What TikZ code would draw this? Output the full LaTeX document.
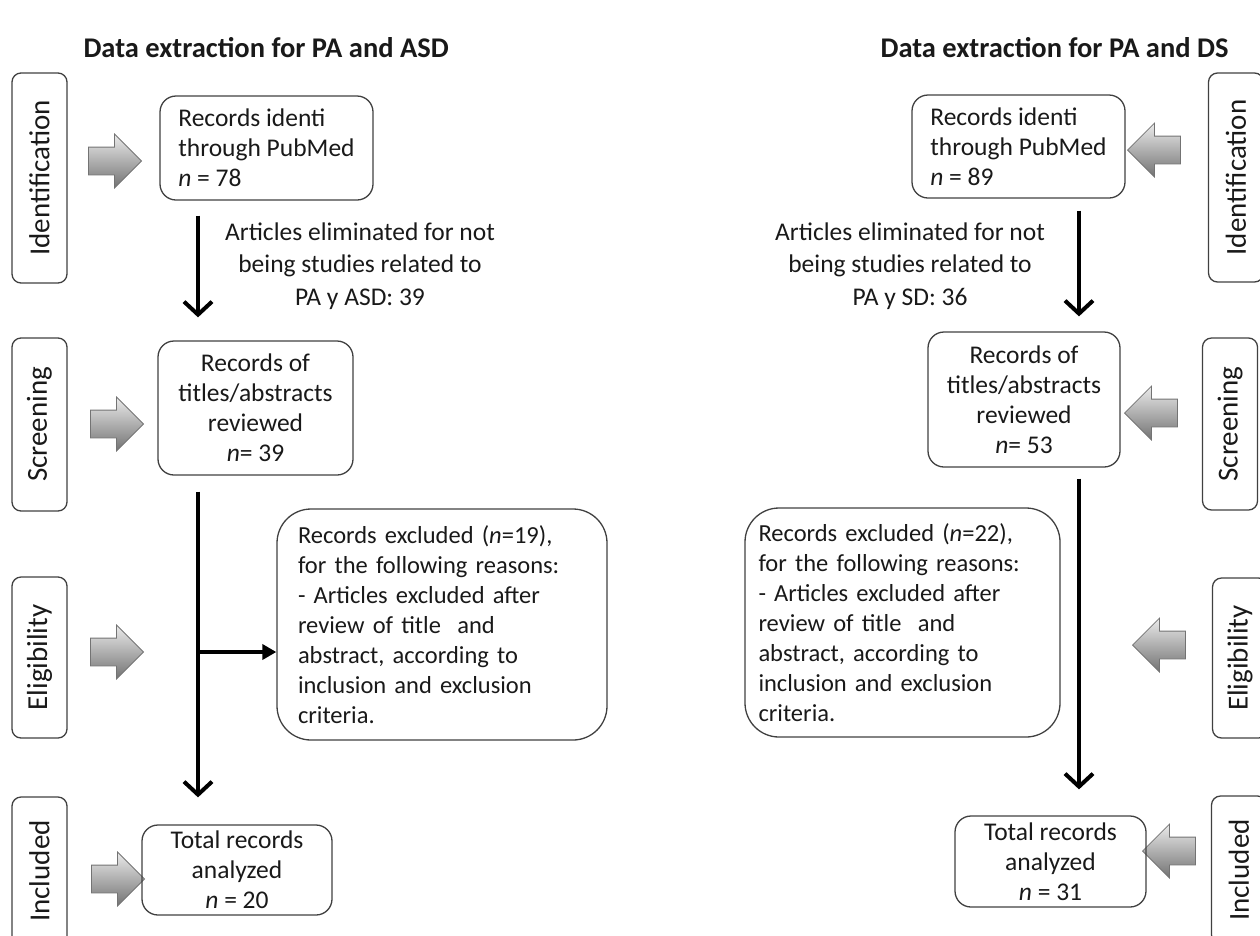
\documentclass[tikz,border=0pt]{standalone}
\usepackage{fontspec}
\setmainfont{Carlito}
\usetikzlibrary{arrows.meta}
\usetikzlibrary{shapes.arrows}
\def\ReviewedRecords{Records of\\titles/abstracts\\reviewed}
\def\TotalRecords{Total records\\analyzed}
\def\ExclusionReasons{for the following reasons:\\- Articles excluded after\\review of title~ and\\abstract, according to\\inclusion and exclusion\\criteria.}

\begin{document}
\begin{tikzpicture}
[x=1pt,y=-1pt,
font=\fontsize{25.5}{30}\selectfont,
recordnode/.style={draw=black!75,line width=1.3pt,rounded corners=16pt,
inner sep=0pt,text=black!90},
excludednode/.style={recordnode,rounded corners=34pt,text width=288pt,
align=left,font=\fontsize{24.5}{30}\selectfont},
phasenode/.style={draw=black!75,line width=1.3pt,rounded corners=9pt,
rotate=90,minimum height=55pt,inner sep=0pt,text=black!90,
font=\fontsize{29}{30}\selectfont},
notenode/.style={align=center,text=black!90,font=\fontsize{25.5}{32.5}\selectfont},
titlenode/.style={anchor=west,font=\fontsize{28.5}{30}\selectfont\bfseries,
text=black!90},
blockarrow/.style={single arrow,draw=black!55,line width=0.8pt,
top color=black!8,bottom color=black!55,minimum height=53pt,
minimum width=52pt,single arrow head extend=13pt,inner xsep=0pt,
inner ysep=13.5pt},
flowarrow/.style={line width=4pt,-{Straight Barb[length=13pt,width=28pt]}},
branch/.style={line width=4pt,-{Triangle[length=14pt,width=15pt]}}
]
\clip (0,0) rectangle (1260,935);
% left: PA and ASD
\begin{scope}
\node [titlenode] (titleA) at (80,48) {Data extraction for PA and ASD};
\node [phasenode,minimum width=210pt] (phIA) at (39.5,178) {Identification};
\node [phasenode,minimum width=173pt] (phSA) at (39.5,424.5) {Screening};
\node [phasenode,minimum width=161pt] (phEA) at (39.5,657.5) {Eligibility};
\node [phasenode,minimum width=148pt] (phNA) at (39.5,871) {Included};
\node [blockarrow] (arIA) at (108,161) {};
\node [blockarrow] (arSA) at (110,424) {};
\node [blockarrow] (arEA) at (110,652) {};
\node [blockarrow] (arNA) at (111,879) {};
\node [recordnode,align=left,minimum width=213pt,minimum height=104pt]
(idA) at (266.5,148) {Records identi\\through PubMed\\\textit{n} = 78};
\node [notenode] (noteA) at (360,266)
{Articles eliminated for not\\being studies related to\\PA y ASD: 39};
\node [recordnode,align=center,minimum width=195pt,minimum height=134pt]
(scrA) at (255.5,408) {\ReviewedRecords\\\textit{n}= 39};
\node [excludednode,minimum width=330pt,minimum height=231pt]
(excA) at (442,624.5) {Records excluded (\textit{n}=19),\\\ExclusionReasons};
\node [recordnode,align=center,minimum width=190pt,minimum height=90pt]
(incA) at (237,870) {\TotalRecords\\\textit{n} = 20};
\coordinate (colA) at (198,0);
\draw [flowarrow,shorten <=15pt,shorten >=23pt] (idA.south -| colA) --
(scrA.north -| colA);
\draw [flowarrow,shorten <=16pt,shorten >=27pt] (scrA.south -| colA) --
(incA.north -| colA);
\draw [branch] (colA |- arEA) -- (excA.west |- arEA);
\end{scope}
% right: PA and DS
\begin{scope}
\node [titlenode] (titleB) at (877,48) {Data extraction for PA and DS};
\node [phasenode,minimum width=209pt] (phIB) at (1236,177.5) {Identification};
\node [phasenode,minimum width=172pt] (phSB) at (1230,424) {Screening};
\node [phasenode,minimum width=160pt] (phEB) at (1240,658) {Eligibility};
\node [phasenode,minimum width=148pt] (phNB) at (1239,870) {Included};
\node [blockarrow,shape border rotate=180] (arIB) at (1161,150) {};
\node [blockarrow,shape border rotate=180] (arSB) at (1158,413) {};
\node [blockarrow,shape border rotate=180] (arEB) at (1166,645) {};
\node [blockarrow,shape border rotate=180] (arNB) at (1176,851) {};
\node [recordnode,align=left,minimum width=213pt,minimum height=103pt]
(idB) at (1018.5,146.5) {Records identi\\through PubMed\\\textit{n} = 89};
\node [notenode] (noteB) at (910,266)
{Articles eliminated for not\\being studies related to\\PA y SD: 36};
\node [recordnode,align=center,minimum width=192pt,minimum height=135pt]
(scrB) at (1024,399.5) {\ReviewedRecords\\\textit{n}= 53};
\node [excludednode,minimum width=315pt,minimum height=229pt]
(excB) at (902.5,622.5) {Records excluded (\textit{n}=22),\\\ExclusionReasons};
\node [recordnode,align=center,minimum width=191pt,minimum height=91pt]
(incB) at (1050.5,861.5) {\TotalRecords\\\textit{n} = 31};
\coordinate (colB) at (1079,0);
\draw [flowarrow,shorten <=12pt,shorten >=15pt] (idB.south -| colB) --
(scrB.north -| colB);
\draw [flowarrow,shorten <=11pt,shorten >=26pt] (scrB.south -| colB) --
(incB.north -| colB);
\end{scope}
\end{tikzpicture}
\end{document}
